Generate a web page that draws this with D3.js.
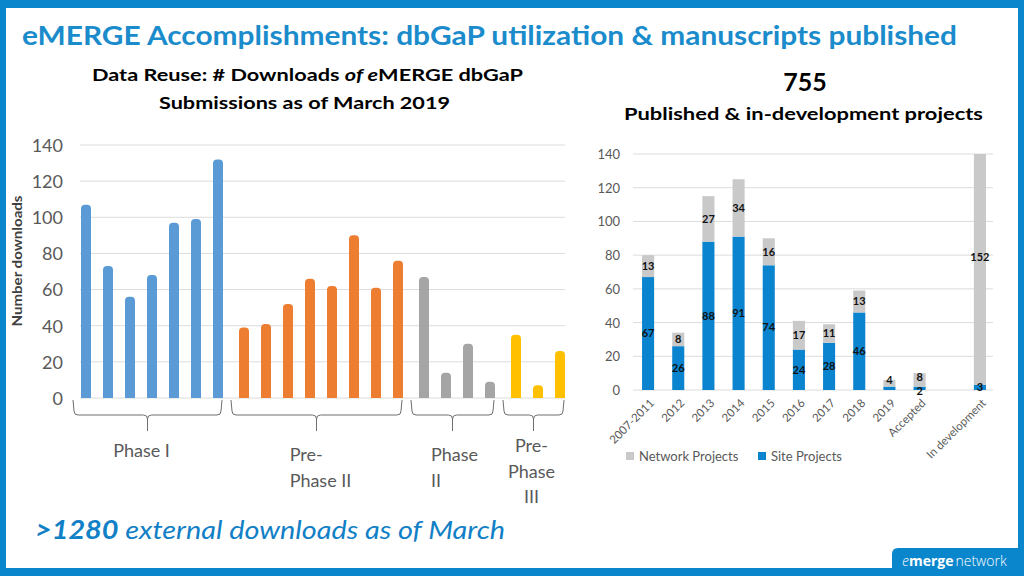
<!DOCTYPE html>
<html>
<head>
<meta charset="utf-8">
<script src="https://cdn.jsdelivr.net/npm/d3@7"></script>
<style>
  html, body { margin: 0; padding: 0; background: #fff; }
  svg { display: block; font-family: Lato, "Open Sans", "Noto Sans", sans-serif; }
</style>
</head>
<body>
<svg id="chart" width="1024" height="576"></svg>
<script>
// ---------------- DATA ----------------
// Left chart: downloads per dbGaP submission, by phase group
const groupNames = ["Phase I", "Pre-Phase II", "Phase II", "Pre-Phase III"];
const groupLabelLines = [["Phase I"], ["Pre-", "Phase II"], ["Phase", "II"], ["Pre-", "Phase", "III"]];
const phaseIDownloads = [107, 73, 56, 68, 97, 99, 132];
const prePhaseIIDownloads = [39, 41, 52, 66, 62, 90, 61, 76];
const phaseIIDownloads = [67, 14, 30, 9];
const prePhaseIIIDownloads = [35, 7, 26];
const leftTicks = [0, 20, 40, 60, 80, 100, 120, 140];

// Right chart: published & in-development projects
const projectCategories = ["2007-2011", "2012", "2013", "2014", "2015", "2016", "2017", "2018", "2019", "Accepted", "", "In development"];
const siteProjects =    [67, 26, 88, 91, 74, 24, 28, 46, 2, 2, 0, 3];
const networkProjects = [13, 8, 27, 34, 16, 17, 11, 13, 4, 8, 0, 152];
const hiddenSiteLabels = ["2019"];
const rightTicks = [0, 20, 40, 60, 80, 100, 120, 140];
const seriesNames = ["Network Projects", "Site Projects"];

// ---------------- STYLE ----------------
const frameBlue = "#0A86CC";
const groupColors = ["#5B9BD5", "#ED7D31", "#A5A5A5", "#FFC000"];
const siteColor = "#0A84CF";
const networkColor = "#C9C9C9";
const gridColor = "#DCDCDC";
const axisText = "#595959";

const svg = d3.select("#chart");

// Frame
svg.append("rect").attr("x", 0).attr("y", 0).attr("width", 1024).attr("height", 576).attr("fill", frameBlue);
svg.append("rect").attr("x", 6).attr("y", 8).attr("width", 1012).attr("height", 560).attr("fill", "#fff");

// Title
svg.append("text").attr("x", 22).attr("y", 45)
  .attr("font-size", 26).attr("font-weight", 700).attr("fill", "#1A8BCB")
  .attr("textLength", 935).attr("lengthAdjust", "spacingAndGlyphs")
  .text("eMERGE Accomplishments: dbGaP utilization & manuscripts published");

// Left subtitle
const sub1 = svg.append("text").attr("x", 92).attr("y", 81)
  .attr("font-size", 17).attr("font-weight", 700).attr("fill", "#000")
  .attr("textLength", 431).attr("lengthAdjust", "spacingAndGlyphs");
sub1.append("tspan").text("Data Reuse: # Downloads ");
sub1.append("tspan").attr("font-style", "italic").text("of e");
sub1.append("tspan").text("MERGE dbGaP");
svg.append("text").attr("x", 159).attr("y", 109)
  .attr("font-size", 17).attr("font-weight", 700).attr("fill", "#000")
  .attr("textLength", 291).attr("lengthAdjust", "spacingAndGlyphs")
  .text("Submissions as of March 2019");

// Right subtitle
svg.append("text").attr("x", 805).attr("y", 91).attr("text-anchor", "middle")
  .attr("font-size", 25).attr("font-weight", 700).attr("fill", "#000").text("755");
svg.append("text").attr("x", 624).attr("y", 120)
  .attr("font-size", 17).attr("font-weight", 700).attr("fill", "#000")
  .attr("textLength", 359).attr("lengthAdjust", "spacingAndGlyphs")
  .text("Published & in-development projects");

// ---------------- LEFT CHART ----------------
const groups = [phaseIDownloads, prePhaseIIDownloads, phaseIIDownloads, prePhaseIIIDownloads];
const bars = [];
groups.forEach((arr, g) => arr.forEach((v, i) => bars.push({ id: g + "-" + i, group: g, value: v })));

const yL = d3.scaleLinear().domain([0, 140]).range([398, 145]);
const xL = d3.scalePoint().domain(bars.map(d => d.id)).range([75, 559]).padding(0.5);
const groupGap = 4;
const barW = 10;
const cx = d => xL(d.id) + d.group * groupGap;

const left = svg.append("g");
left.selectAll("line.grid").data(leftTicks).join("line")
  .attr("x1", 80).attr("x2", 565)
  .attr("y1", d => yL(d)).attr("y2", d => yL(d))
  .attr("stroke", gridColor).attr("stroke-width", 1);
const yAxisL = d3.axisLeft(yL).tickValues(leftTicks).tickSize(0).tickPadding(0);
const gAxL = left.append("g").attr("transform", "translate(63,0)").call(yAxisL);
gAxL.select(".domain").remove();
gAxL.selectAll("text").attr("font-size", 18).attr("fill", axisText)
  .attr("font-family", "Lato, 'Open Sans', sans-serif").attr("dy", "0.35em");

svg.append("text")
  .attr("transform", "translate(22,261) rotate(-90)")
  .attr("text-anchor", "middle").attr("font-size", 14).attr("font-weight", 700).attr("fill", "#404040")
  .attr("textLength", 131).attr("lengthAdjust", "spacingAndGlyphs")
  .text("Number downloads");

function roundTopBar(x, w, yTop, yBase, r) {
  const rr = Math.min(r, (yBase - yTop));
  const p = d3.path();
  p.moveTo(x, yBase);
  p.lineTo(x, yTop + rr);
  p.quadraticCurveTo(x, yTop, x + rr, yTop);
  p.lineTo(x + w - rr, yTop);
  p.quadraticCurveTo(x + w, yTop, x + w, yTop + rr);
  p.lineTo(x + w, yBase);
  p.closePath();
  return p.toString();
}
left.selectAll("path.bar").data(bars).join("path")
  .attr("d", d => roundTopBar(cx(d) - barW / 2, barW, yL(d.value), yL(0), 4))
  .attr("fill", d => groupColors[d.group]);
left.append("line").attr("x1", 80).attr("x2", 565).attr("y1", yL(0) + 0.5).attr("y2", yL(0) + 0.5)
  .attr("stroke", "#EDEDED").attr("stroke-width", 1);

// braces + group labels
const braceTop = 400, braceMid = 415, braceTip = 431;
const groupInfo = groupNames.map((name, g) => {
  const gb = bars.filter(b => b.group === g);
  const x0 = cx(gb[0]) - 12, x1 = cx(gb[gb.length - 1]) + 3;
  return { name, g, x0, x1, tip: (x0 + x1) / 2 };
});
function bracePath(b) {
  const p = d3.path();
  const r = 4;
  p.moveTo(b.x0 - 1, braceTop);
  p.lineTo(b.x0, braceMid - r);
  p.quadraticCurveTo(b.x0, braceMid, b.x0 + r, braceMid);
  p.lineTo(b.tip - r, braceMid);
  p.quadraticCurveTo(b.tip, braceMid, b.tip, braceMid + r);
  p.lineTo(b.tip, braceTip);
  p.moveTo(b.tip, braceMid + r);
  p.quadraticCurveTo(b.tip, braceMid, b.tip + r, braceMid);
  p.lineTo(b.x1 - r, braceMid);
  p.quadraticCurveTo(b.x1, braceMid, b.x1, braceMid - r);
  p.lineTo(b.x1 + 1, braceTop);
  return p.toString();
}
left.selectAll("path.brace").data(groupInfo).join("path")
  .attr("d", bracePath).attr("fill", "none").attr("stroke", "#6E6E6E").attr("stroke-width", 1);

const labelAlign = ["middle", "left", "left", "middle"];
const labelBase = [457, 461, 461, 452];
const labelShift = [-6, 4, 2, -2];
groupInfo.forEach(b => {
  const lines = groupLabelLines[b.g];
  const t = left.append("text").attr("font-size", 18).attr("fill", axisText);
  lines.forEach((ln, i) => {
    t.append("tspan").attr("y", labelBase[b.g] + i * 25.5).text(ln);
  });
  if (labelAlign[b.g] === "middle") {
    t.attr("text-anchor", "middle");
    t.selectAll("tspan").attr("x", b.tip + labelShift[b.g]);
  } else {
    let maxW = 0;
    t.selectAll("tspan").each(function () { maxW = Math.max(maxW, this.getComputedTextLength()); });
    t.selectAll("tspan").attr("x", b.tip - maxW / 2 + labelShift[b.g]);
  }
});

// ---------------- RIGHT CHART ----------------
const rows = projectCategories.map((c, i) => ({ cat: c, key: "k" + i, site: siteProjects[i], network: networkProjects[i] }));
const xR = d3.scaleBand().domain(rows.map(d => d.key)).range([633, 995]).paddingInner(0.6).paddingOuter(0.3);
const yR = d3.scaleLinear().domain([0, 140]).range([390, 154]);
const right = svg.append("g");

right.selectAll("line.grid").data(rightTicks).join("line")
  .attr("x1", 633).attr("x2", 993)
  .attr("y1", d => yR(d)).attr("y2", d => yR(d))
  .attr("stroke", gridColor).attr("stroke-width", 1);
const gAxR = right.append("g").attr("transform", "translate(620,0)")
  .call(d3.axisLeft(yR).tickValues(rightTicks).tickSize(0).tickPadding(0));
gAxR.select(".domain").remove();
gAxR.selectAll("text").attr("font-size", 13).attr("fill", axisText)
  .attr("font-family", "Lato, 'Open Sans', sans-serif").attr("dy", "0.35em");

svg.append("clipPath").attr("id", "rclip").append("rect")
  .attr("x", 620).attr("y", yR(140)).attr("width", 390).attr("height", yR(0) - yR(140));

const stack = d3.stack().keys(["site", "network"]);
const stacked = stack(rows);
const segColors = { site: siteColor, network: networkColor };
right.append("g").attr("clip-path", "url(#rclip)")
  .selectAll("g").data(stacked).join("g").attr("fill", s => segColors[s.key])
  .selectAll("rect").data(s => s.map(p => ({ p, key: s.key })))
  .join("rect")
  .attr("x", d => xR(d.p.data.key)).attr("width", xR.bandwidth())
  .attr("y", d => yR(d.p[1])).attr("height", d => Math.max(0, yR(d.p[0]) - yR(d.p[1])));

// data labels (labels on very short bars are nudged apart so they don't collide)
const labelData = [];
stacked.forEach(s => s.forEach(p => {
  const v = p.data[s.key];
  if (!v) return;
  if (s.key === "site" && hiddenSiteLabels.includes(p.data.cat)) return;
  let y = yR((p[0] + p[1]) / 2);
  if (p.data.site + p.data.network < 15) y += (s.key === "site" ? 3 : -3);
  labelData.push({ x: xR(p.data.key) + xR.bandwidth() / 2, y, v });
}));
right.selectAll("text.lbl").data(labelData).join("text")
  .attr("x", d => d.x).attr("y", d => d.y).attr("dy", "0.35em")
  .attr("text-anchor", "middle").attr("font-size", 11).attr("font-weight", 700).attr("fill", "#111")
  .text(d => d.v);

// x labels
right.selectAll("text.xl").data(rows.filter(d => d.cat !== "")).join("text")
  .attr("transform", d => `translate(${xR(d.key) + xR.bandwidth() / 2 + 4},401) rotate(-45)`)
  .attr("text-anchor", "end").attr("font-size", 11.5).attr("fill", axisText)
  .attr("dy", "0.35em")
  .text(d => d.cat);

// legend
const legend = right.append("g");
const legX = [626, 758];
const legColors = [networkColor, siteColor];
seriesNames.forEach((n, i) => {
  legend.append("rect").attr("x", legX[i]).attr("y", 452).attr("width", 8).attr("height", 8).attr("fill", legColors[i]);
  legend.append("text").attr("x", legX[i] + 13).attr("y", 461).attr("font-size", 13).attr("fill", axisText).text(n);
});

// ---------------- FOOTER ----------------
const foot = svg.append("text").attr("x", 35).attr("y", 539)
  .attr("font-size", 26).attr("font-style", "italic").attr("fill", "#1180C6")
  .attr("textLength", 470).attr("lengthAdjust", "spacingAndGlyphs");
foot.append("tspan").attr("font-weight", 700).text(">1280");
foot.append("tspan").text(" external downloads as of March");

// logo tab
const tab = d3.path();
tab.moveTo(892, 576); tab.lineTo(892, 554); tab.quadraticCurveTo(892, 548, 898, 548);
tab.lineTo(1024, 548); tab.lineTo(1024, 576); tab.closePath();
svg.append("path").attr("d", tab.toString()).attr("fill", frameBlue);
const logo = svg.append("text").attr("x", 902).attr("y", 566).attr("font-size", 14).attr("fill", "#fff")
  .attr("font-family", "'Open Sans', sans-serif");
logo.append("tspan").attr("font-style", "italic").attr("font-weight", 300).text("e");
logo.append("tspan").attr("font-weight", 700).text("merge");
logo.append("tspan").attr("font-weight", 300).attr("dx", 2).text("network");
</script>
</body>
</html>
